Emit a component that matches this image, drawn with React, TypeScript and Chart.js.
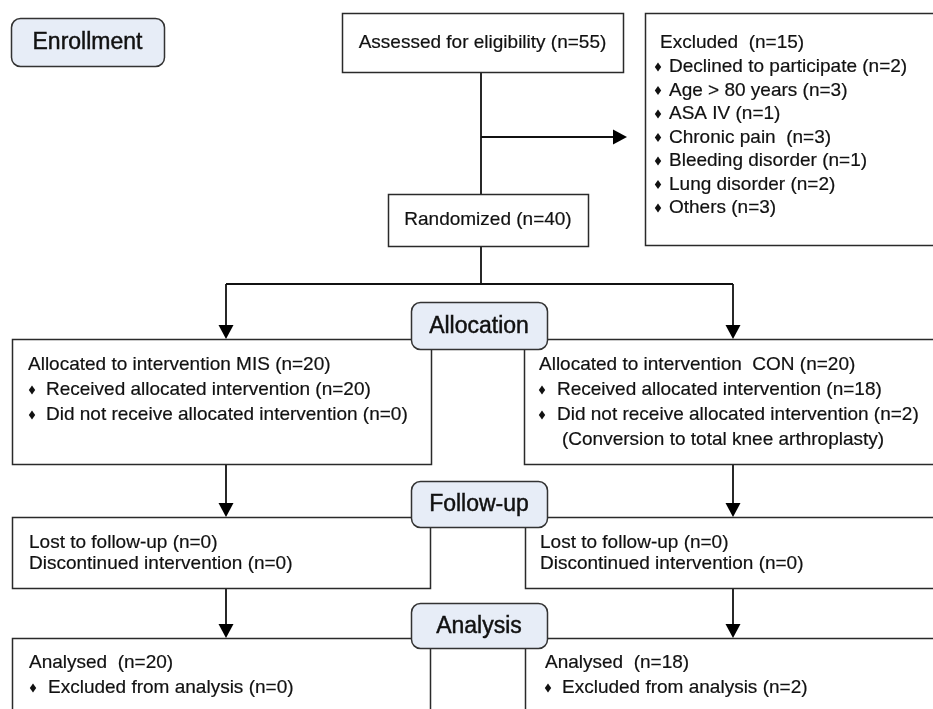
import React, { useEffect, useRef } from "react";
import { Chart, registerables } from "chart.js";

Chart.register(...registerables);

// ---------- data ----------
const stageLabels = ["Enrollment", "Allocation", "Follow-up", "Analysis"];
const assessedN = 55;
const randomizedN = 40;
const excludedN = 15;
const excludedReasons = [
  "Declined to participate",
  "Age > 80 years",
  "ASA IV",
  "Chronic pain ",
  "Bleeding disorder",
  "Lung disorder",
  "Others",
];
const excludedCounts = [2, 3, 1, 3, 1, 2, 3];
const armNames = ["MIS", "CON"];
const allocatedN = [20, 20];
const receivedN = [20, 18];
const notReceivedN = [0, 2];
const notReceivedNote = ["", "(Conversion to total knee arthroplasty)"];
const lostN = [0, 0];
const discontinuedN = [0, 0];
const analysedN = [20, 18];
const excludedAnalysisN = [0, 2];

// ---------- layout (value space of the hidden linear scales) ----------
const W = 933;
const H = 709;
const FONT = '"Liberation Sans", Arial, Helvetica, sans-serif';
const BODY_SIZE = 19;
const LABEL_SIZE = 23;

type Box = { x0: number; y0: number; x1: number; y1: number };
const L = {
  enrollment: { x0: 11, y0: 18, x1: 164, y1: 66 },
  allocation: { x0: 411, y0: 302, x1: 547, y1: 349 },
  followup: { x0: 411, y0: 481, x1: 547, y1: 527 },
  analysis: { x0: 411, y0: 603, x1: 547, y1: 648 },
  assessed: { x0: 342, y0: 13, x1: 623, y1: 72 },
  excluded: { x0: 645, y0: 13, x1: 945, y1: 245 },
  randomized: { x0: 388, y0: 194, x1: 588, y1: 246 },
  alloc: [
    { x0: 12, y0: 339, x1: 431, y1: 464 },
    { x0: 524, y0: 339, x1: 945, y1: 464 },
  ],
  lost: [
    { x0: 12, y0: 517, x1: 430, y1: 588 },
    { x0: 525, y0: 517, x1: 945, y1: 588 },
  ],
  analysed: [
    { x0: 12, y0: 638, x1: 430, y1: 730 },
    { x0: 525, y0: 638, x1: 945, y1: 730 },
  ],
  mainX: 481,
  sideArrowY: 137,
  sideArrowTip: 627,
  splitY: 284,
  armX: [226, 733],
};

const flowPlugin = {
  id: "flow",
  afterDatasetsDraw(chart: any) {
    const ctx: CanvasRenderingContext2D = chart.ctx;
    const xs = chart.scales.x;
    const ys = chart.scales.y;
    const px = (v: number) => xs.getPixelForValue(v);
    const py = (v: number) => ys.getPixelForValue(v);
    const LINE = "#2a2a2a";

    ctx.save();

    const rect = (b: Box) => {
      ctx.beginPath();
      ctx.rect(px(b.x0) + 0.5, py(b.y0) + 0.5, px(b.x1) - px(b.x0), py(b.y1) - py(b.y0));
      ctx.fillStyle = "#ffffff";
      ctx.fill();
      ctx.lineWidth = 1.5;
      ctx.strokeStyle = LINE;
      ctx.stroke();
    };
    const roundBox = (b: Box) => {
      const x = px(b.x0), y = py(b.y0), w = px(b.x1) - x, h = py(b.y1) - y;
      ctx.beginPath();
      (ctx as any).roundRect(x + 0.5, y + 0.5, w, h, 9);
      ctx.fillStyle = "#e7edf7";
      ctx.fill();
      ctx.lineWidth = 1.5;
      ctx.strokeStyle = "#333333";
      ctx.stroke();
    };
    const line = (x0: number, y0: number, x1: number, y1: number) => {
      ctx.beginPath();
      ctx.moveTo(px(x0), py(y0));
      ctx.lineTo(px(x1), py(y1));
      ctx.lineWidth = 1.8;
      ctx.strokeStyle = "#111";
      ctx.stroke();
    };
    const arrowDown = (x: number, y0: number, y1: number) => {
      const ah = 14, aw = 7.5;
      line(x, y0, x, y1 - ah + 1);
      ctx.beginPath();
      ctx.moveTo(px(x) - aw, py(y1 - ah));
      ctx.lineTo(px(x) + aw, py(y1 - ah));
      ctx.lineTo(px(x), py(y1));
      ctx.closePath();
      ctx.fillStyle = "#000";
      ctx.fill();
    };
    const arrowRight = (y: number, x0: number, x1: number) => {
      const ah = 14, aw = 7.5;
      line(x0, y, x1 - ah + 1, y);
      ctx.beginPath();
      ctx.moveTo(px(x1 - ah), py(y) - aw);
      ctx.lineTo(px(x1 - ah), py(y) + aw);
      ctx.lineTo(px(x1), py(y));
      ctx.closePath();
      ctx.fillStyle = "#000";
      ctx.fill();
    };
    const text = (s: string, x: number, y: number, align: CanvasTextAlign = "left") => {
      ctx.font = `${BODY_SIZE}px ${FONT}`;
      ctx.fillStyle = "#111";
      ctx.strokeStyle = "#111";
      ctx.lineWidth = 0.2;
      ctx.textAlign = align;
      ctx.textBaseline = "middle";
      ctx.fillText(s, px(x), py(y));
      ctx.strokeText(s, px(x), py(y));
    };
    const label = (s: string, b: Box) => {
      ctx.font = `${LABEL_SIZE}px ${FONT}`;
      ctx.fillStyle = "#111";
      ctx.strokeStyle = "#111";
      ctx.lineWidth = 0.45;
      ctx.textAlign = "center";
      ctx.textBaseline = "middle";
      const cx = px((b.x0 + b.x1) / 2);
      const cy = py((b.y0 + b.y1) / 2) + 1;
      ctx.fillText(s, cx, cy);
      ctx.strokeText(s, cx, cy);
    };
    const bullet = (x: number, y: number) => {
      const r = 4;
      ctx.beginPath();
      ctx.moveTo(px(x), py(y) - r - 0.5);
      ctx.lineTo(px(x) + r * 0.8, py(y));
      ctx.lineTo(px(x), py(y) + r + 0.5);
      ctx.lineTo(px(x) - r * 0.8, py(y));
      ctx.closePath();
      ctx.fillStyle = "#111";
      ctx.fill();
    };
    const bulletText = (s: string, bx: number, tx: number, y: number) => {
      bullet(bx, y);
      text(s, tx, y);
    };

    // connectors
    line(L.mainX, L.assessed.y1, L.mainX, L.randomized.y0);
    arrowRight(L.sideArrowY, L.mainX, L.sideArrowTip);
    line(L.mainX, L.randomized.y1, L.mainX, L.splitY);
    line(L.armX[0], L.splitY, L.armX[1], L.splitY);
    for (let i = 0; i < 2; i++) {
      arrowDown(L.armX[i], L.splitY, L.alloc[i].y0);
      arrowDown(L.armX[i], L.alloc[i].y1, L.lost[i].y0);
      arrowDown(L.armX[i], L.lost[i].y1, L.analysed[i].y0);
    }

    // boxes
    rect(L.assessed);
    rect(L.excluded);
    rect(L.randomized);
    for (let i = 0; i < 2; i++) {
      rect(L.alloc[i]);
      rect(L.lost[i]);
      rect(L.analysed[i]);
    }

    // stage labels
    roundBox(L.enrollment);
    label(stageLabels[0], L.enrollment);
    roundBox(L.allocation);
    label(stageLabels[1], L.allocation);
    roundBox(L.followup);
    label(stageLabels[2], L.followup);
    roundBox(L.analysis);
    label(stageLabels[3], L.analysis);

    // texts
    text(`Assessed for eligibility (n=${assessedN})`, (L.assessed.x0 + L.assessed.x1) / 2, 43, "center");
    text(`Randomized (n=${randomizedN})`, (L.randomized.x0 + L.randomized.x1) / 2, 220, "center");

    text(`Excluded  (n=${excludedN})`, 660, 43);
    const exStep = 23.5;
    excludedReasons.forEach((r, i) => {
      bulletText(`${r} (n=${excludedCounts[i]})`, 658, 669, 67 + i * exStep);
    });

    const textLeft = [28, 539];
    const bulletX = [32, 542];
    const bulletTextX = [46, 557];
    for (let i = 0; i < 2; i++) {
      const tl = textLeft[i];
      text(`Allocated to intervention ${i === 1 ? " " : ""}${armNames[i]} (n=${allocatedN[i]})`, tl, 365);
      bulletText(`Received allocated intervention (n=${receivedN[i]})`, bulletX[i], bulletTextX[i], 390);
      bulletText(`Did not receive allocated intervention (n=${notReceivedN[i]})`, bulletX[i], bulletTextX[i], 415);
      if (notReceivedNote[i]) text(notReceivedNote[i], 562, 440);

      text(`Lost to follow-up (n=${lostN[i]})`, tl + 1, 543);
      text(`Discontinued intervention (n=${discontinuedN[i]})`, tl + 1, 564);

      const al = i === 0 ? 29 : 545;
      text(`Analysed  (n=${analysedN[i]})`, al, 663);
      bulletText(`Excluded from analysis (n=${excludedAnalysisN[i]})`, i === 0 ? 33 : 548, i === 0 ? 48 : 562, 688);
    }

    ctx.restore();
  },
};

export default function App() {
  const ref = useRef<HTMLCanvasElement>(null);
  useEffect(() => {
    document.body.style.margin = "0";
    const chart = new Chart(ref.current as HTMLCanvasElement, {
      type: "scatter",
      data: { datasets: [{ data: [], pointRadius: 0 }] },
      options: {
        responsive: false,
        maintainAspectRatio: false,
        animation: false,
        devicePixelRatio: 1,
        layout: { padding: 0 },
        plugins: { legend: { display: false }, tooltip: { enabled: false } },
        scales: {
          x: { type: "linear", min: 0, max: W, display: false },
          y: { type: "linear", min: 0, max: H, reverse: true, display: false },
        },
      },
      plugins: [flowPlugin],
    });
    return () => chart.destroy();
  }, []);
  return (
    <div style={{ width: W, height: H, background: "#fff" }}>
      <canvas ref={ref} width={W} height={H} style={{ display: "block" }} />
    </div>
  );
}
